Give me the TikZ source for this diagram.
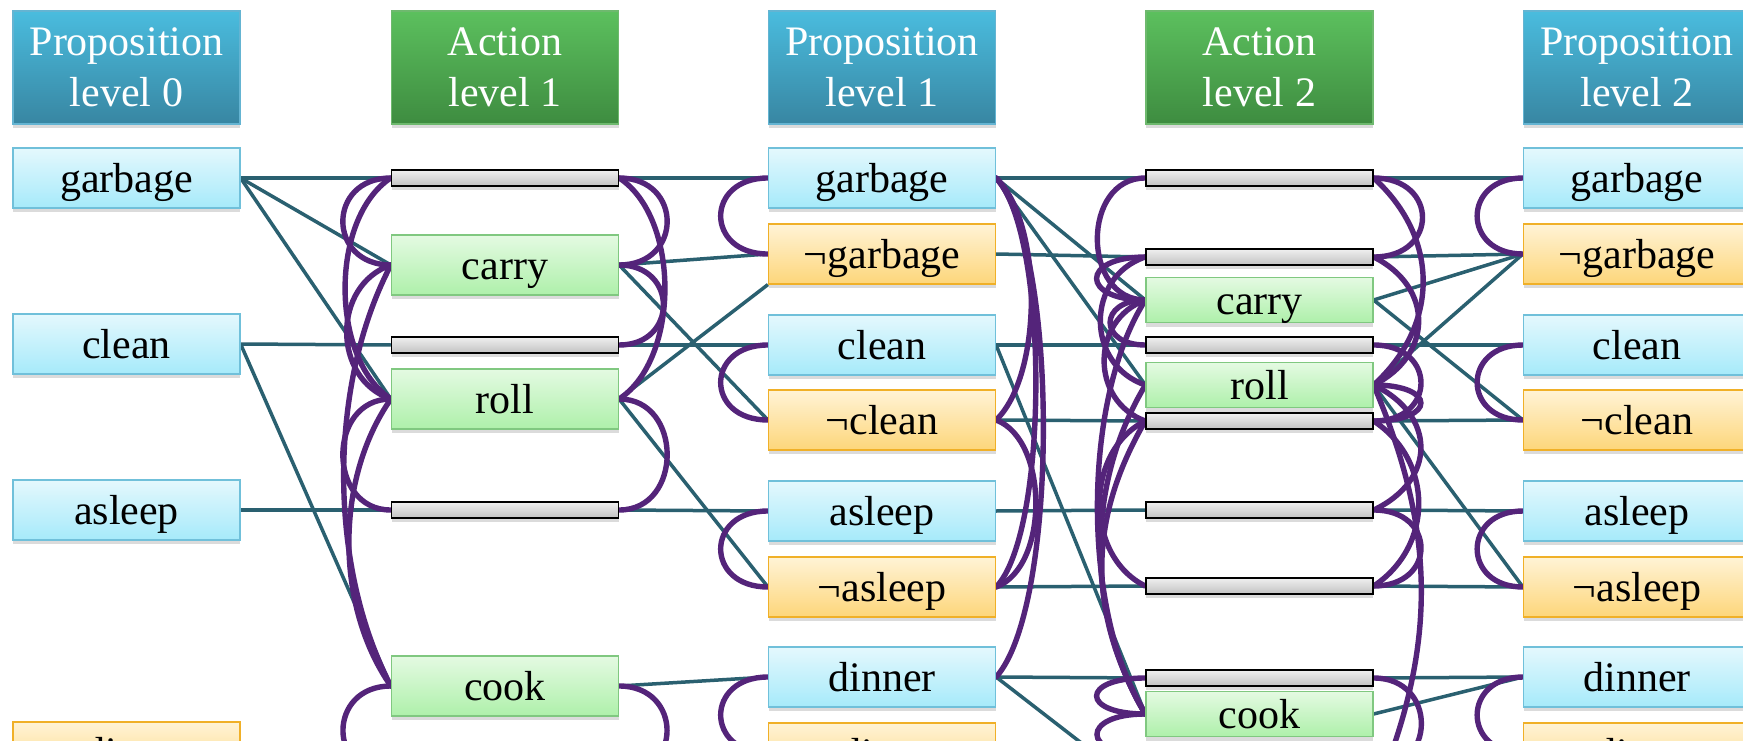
\documentclass[tikz,border=0pt]{standalone}
\usepackage{fontspec}
\setmainfont{Liberation Serif}
\usetikzlibrary{shadows,backgrounds}
\definecolor{lteal}{RGB}{42,96,112}
\definecolor{mpurple}{RGB}{84,36,122}
\definecolor{pTop}{RGB}{228,248,253}
\definecolor{pBot}{RGB}{166,234,250}
\definecolor{pBor}{RGB}{112,192,218}
\definecolor{nTop}{RGB}{255,243,214}
\definecolor{nBot}{RGB}{253,214,122}
\definecolor{nBor}{RGB}{240,176,40}
\definecolor{aTop}{RGB}{228,250,226}
\definecolor{aBot}{RGB}{174,240,170}
\definecolor{aBor}{RGB}{128,200,128}
\definecolor{hpTop}{RGB}{74,188,222}
\definecolor{hpBot}{RGB}{56,134,162}
\definecolor{hpBor}{RGB}{100,180,210}
\definecolor{haTop}{RGB}{92,192,94}
\definecolor{haBot}{RGB}{62,140,64}
\definecolor{haBor}{RGB}{110,185,110}
% mutex arcs on the left / right side of a column
\newcommand\mxL[4]{\draw[mutex] (#1) .. controls +(-#3,#4) and +(-#3,-#4) .. (#2);}
\newcommand\mxR[4]{\draw[mutex] (#1) .. controls +(#3,#4) and +(#3,-#4) .. (#2);}
\begin{document}
\begin{tikzpicture}[x=1pt,y=-1pt,
  boxbase/.style={rectangle, minimum width=227pt, inner sep=0pt, line width=1.2pt,
    drop shadow={shadow xshift=0pt, shadow yshift=-4pt, opacity=0.28}},
  lbl/.style={font=\fontsize{42}{51}\selectfont, text height=32pt, text depth=4pt},
  prop/.style={boxbase, lbl, minimum height=60pt, draw=pBor, top color=pTop, bottom color=pBot},
  negprop/.style={boxbase, lbl, minimum height=60pt, draw=nBor, top color=nTop, bottom color=nBot},
  act/.style={boxbase, lbl, minimum height=60pt, draw=aBor, top color=aTop, bottom color=aBot},
  actsm/.style={act, minimum height=45pt},
  noop/.style={boxbase, minimum height=16pt, draw=black, line width=1.5pt,
    top color=white!94!black, bottom color=white!76!black},
  hdr/.style={boxbase, minimum height=113pt, align=center, text=white,
    font=\fontsize{42}{51}\selectfont},
  hprop/.style={hdr, draw=hpBor, top color=hpTop, bottom color=hpBot},
  hact/.style={hdr, draw=haBor, top color=haTop, bottom color=haBot},
  link/.style={draw=lteal, line width=3.5pt},
  mutex/.style={draw=mpurple, line width=5.4pt, line cap=round}]
\useasboundingbox (0,0) rectangle (1743,741);

% headers
\node[hprop] (h0) at (126.5,67.5) {Proposition\\level 0};
\node[hact]  (h1) at (505,67.5)   {Action\\level 1};
\node[hprop] (h2) at (882,67.5)   {Proposition\\level 1};
\node[hact]  (h3) at (1259.5,67.5){Action\\level 2};
\node[hprop] (h4) at (1637,67.5)  {Proposition\\level 2};

% proposition level 0
\node[prop] (g0) at (126.5,178) {garbage};
\node[prop] (c0) at (126.5,344) {clean};
\node[prop] (a0) at (126.5,510) {asleep};
\node[negprop] (nd0) at (126.5,752) {¬dinner};

% action level 1
\node[noop] (nG1) at (505,178) {};
\node[act]  (carry1) at (505,265) {carry};
\node[noop] (nC1) at (505,345) {};
\node[act]  (roll1) at (505,399) {roll};
\node[noop] (nA1) at (505,510) {};
\node[act]  (cook1) at (505,686) {cook};

% proposition level 1
\node[prop]    (g2)  at (882,178) {garbage};
\node[negprop] (ng2) at (882,254) {¬garbage};
\node[prop]    (c2)  at (882,345) {clean};
\node[negprop] (nc2) at (882,420) {¬clean};
\node[prop]    (a2)  at (882,511) {asleep};
\node[negprop] (na2) at (882,587) {¬asleep};
\node[prop]    (d2)  at (882,677) {dinner};
\node[negprop] (nd2) at (882,753) {¬dinner};

% action level 2
\node[noop]  (bG3)   at (1259.5,178) {};
\node[noop]  (bNG3)  at (1259.5,257) {};
\node[actsm] (carry3) at (1259.5,300) {carry};
\node[noop]  (bC3)   at (1259.5,345) {};
\node[actsm] (roll3) at (1259.5,385) {roll};
\node[noop]  (bNC3)  at (1259.5,421) {};
\node[noop]  (bA3)   at (1259.5,510) {};
\node[noop]  (bNA3)  at (1259.5,586) {};
\node[noop]  (bD3)   at (1259.5,678) {};
\node[actsm] (cook3) at (1259.5,714) {cook};

% proposition level 2
\node[prop]    (g4)  at (1637,178) {garbage};
\node[negprop] (ng4) at (1637,254) {¬garbage};
\node[prop]    (c4)  at (1637,345) {clean};
\node[negprop] (nc4) at (1637,420) {¬clean};
\node[prop]    (a4)  at (1637,511) {asleep};
\node[negprop] (na4) at (1637,587) {¬asleep};
\node[prop]    (d4)  at (1637,677) {dinner};
\node[negprop] (nd4) at (1637,753) {¬dinner};

% continuations below the visible part
\coordinate (cb1L) at (391,775);
\coordinate (cb1R) at (619,775);
\coordinate (cb3L) at (1146,755);
\coordinate (rb3R) at (1373,800);
\coordinate (db3R) at (1373,770);
\coordinate (dn3)  at (1146,793);

\begin{scope}[on background layer]
\fill[white] (0,0) rectangle (1743,741);
% preconditions and effects
\draw[link] (g0.east) -- (nG1.west);
\draw[link] (g0.east) -- (carry1.west);
\draw[link] (g0.east) -- (roll1.west);
\draw[link] (c0.east) -- (nC1.west);
\draw[link] (c0.east) -- (cook1.west);
\draw[link] (a0.east) -- (nA1.west);

\draw[link] (nG1.east) -- (g2.west);
\draw[link] (carry1.east) -- (ng2.west);
\draw[link] (carry1.east) -- (nc2.west);
\draw[link] (nC1.east) -- (c2.west);
\draw[link] (roll1.east) -- (ng2.south west);
\draw[link] (roll1.east) -- (na2.west);
\draw[link] (nA1.east) -- (a2.west);
\draw[link] (cook1.east) -- (d2.west);

\draw[link] (g2.east) -- (bG3.west);
\draw[link] (g2.east) -- (carry3.west);
\draw[link] (g2.east) -- (roll3.west);
\draw[link] (ng2.east) -- (bNG3.west);
\draw[link] (c2.east) -- (bC3.west);
\draw[link] (c2.east) -- (cook3.west);
\draw[link] (nc2.east) -- (bNC3.west);
\draw[link] (a2.east) -- (bA3.west);
\draw[link] (na2.east) -- (bNA3.west);
\draw[link] (d2.east) -- (bD3.west);
\draw[link] (d2.east) -- (dn3);

\draw[link] (bG3.east) -- (g4.west);
\draw[link] (bNG3.east) -- (ng4.west);
\draw[link] (carry3.east) -- (ng4.west);
\draw[link] (carry3.east) -- (nc4.west);
\draw[link] (bC3.east) -- (c4.west);
\draw[link] (roll3.east) -- (ng4.west);
\draw[link] (roll3.east) -- (na4.west);
\draw[link] (bNC3.east) -- (nc4.west);
\draw[link] (bA3.east) -- (a4.west);
\draw[link] (bNA3.east) -- (na4.west);
\draw[link] (bD3.east) -- (d4.west);
\draw[link] (cook3.east) -- (d4.west);

% mutexes, action level 1
\mxL{nG1.west}{carry1.west}{64}{0}
\mxL{nG1.west}{roll1.west}{61}{40}
\mxL{carry1.west}{roll1.west}{59}{20}
\mxL{carry1.west}{cook1.west}{63}{120}
\mxL{roll1.west}{nA1.west}{64}{0}
\mxL{roll1.west}{cook1.west}{56}{80}
\mxL{cook1.west}{cb1L}{64}{0}
\mxR{nG1.east}{carry1.east}{64}{0}
\mxR{nG1.east}{roll1.east}{61}{40}
\mxR{carry1.east}{nC1.east}{59}{0}
\mxR{roll1.east}{nA1.east}{64}{0}
\mxR{cook1.east}{cb1R}{64}{0}

% mutexes, proposition level 1
\mxL{g2.west}{ng2.west}{63}{0}
\mxL{c2.west}{nc2.west}{63}{0}
\mxL{a2.west}{na2.west}{63}{0}
\mxL{d2.west}{nd2.west}{63}{0}
\mxR{g2.east}{nc2.east}{47}{45}
\mxR{g2.east}{na2.east}{53}{55}
\mxR{g2.east}{d2.east}{63}{70}
\mxR{nc2.east}{na2.east}{53}{20}

% mutexes, action level 2
\mxL{bG3.west}{carry3.west}{64}{0}
\mxL{bNG3.west}{carry3.west}{65}{0}
\mxL{bNG3.west}{roll3.west}{60}{20}
\mxL{carry3.west}{bC3.west}{47}{0}
\mxL{carry3.west}{bNC3.west}{55}{20}
\mxL{carry3.west}{cook3.west}{64}{100}
\mxL{roll3.west}{cook3.west}{60}{100}
\mxL{bNC3.west}{cook3.west}{58}{100}
\mxL{bNC3.west}{bNA3.west}{61}{30}
\mxL{bD3.west}{cook3.west}{65}{0}
\mxL{cook3.west}{cb3L}{65}{0}
\mxR{bG3.east}{bNG3.east}{65}{0}
\mxR{bG3.east}{roll3.east}{66}{60}
\mxR{bNG3.east}{roll3.east}{60}{30}
\mxR{bC3.east}{bNC3.east}{63}{0}
\mxR{roll3.east}{bNC3.east}{63}{0}
\mxR{roll3.east}{bA3.east}{63}{30}
\mxR{bNC3.east}{bNA3.east}{60}{40}
\mxR{bA3.east}{bNA3.east}{63}{0}
\mxR{roll3.east}{rb3R}{64}{150}
\mxR{bD3.east}{db3R}{64}{0}

% mutexes, proposition level 2
\mxL{g4.west}{ng4.west}{61}{0}
\mxL{c4.west}{nc4.west}{61}{0}
\mxL{a4.west}{na4.west}{61}{0}
\mxL{d4.west}{nd4.west}{61}{0}
\end{scope}
\end{tikzpicture}
\end{document}
